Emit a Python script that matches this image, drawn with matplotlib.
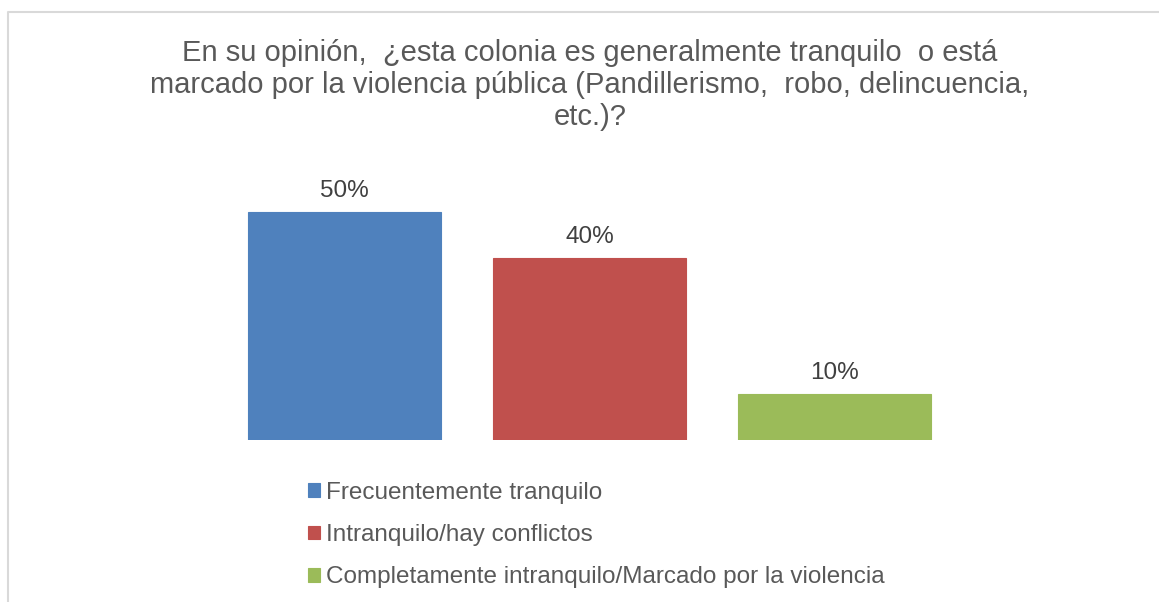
import numpy as np
import matplotlib.pyplot as plt
from matplotlib.lines import Line2D

categorias = ['Frecuentemente tranquilo', 'Intranquilo/hay conflictos',
              'Completamente intranquilo/Marcado por la violencia']
valores = [50, 40, 10]
etiquetas = ['50%', '40%', '10%']
colores = ['#4F81BD', '#C0504D', '#9BBB59']
titulo = ('En su opinión,  ¿esta colonia es generalmente tranquilo  o está\n'
          'marcado por la violencia pública (Pandillerismo,  robo, delincuencia,\n'
          'etc.)?')

plt.rcParams['font.family'] = ['Liberation Sans', 'DejaVu Sans']
W, H = 1159, 602
fig = plt.figure(figsize=(W / 100, H / 100), dpi=100)

# axes placed in pixel units
ax = fig.add_axes([222 / W, 162 / H, 735 / W, 4.56 * 60 / H])
x = np.arange(len(valores))
for i in range(len(valores)):
    ax.bar(x[i], valores[i], width=0.788, color=colores[i], label=categorias[i],
           edgecolor=colores[i], linewidth=0.8)
    ax.text(x[i], valores[i] + 3.3, etiquetas[i], ha='center', va='baseline',
            fontsize=17.5, color='#404040')
ax.set_xlim(-0.5, 2.5)
ax.set_ylim(0, 60)
ax.axis('off')

fig.text(590 / W, 1 - 39 / H, titulo, ha='center', va='top',
         fontsize=21, color='#595959', linespacing=1.18)

fig.legend(loc='upper left', bbox_to_anchor=(308 / W, 1 - 482 / H), frameon=False,
           fontsize=17.5, handlelength=0.5, handleheight=0.5, handletextpad=0.25,
           labelspacing=0.83, labelcolor='#595959', borderpad=0, borderaxespad=0)

# chart border (top and left)
fig.add_artist(Line2D([7.5 / W, 7.5 / W, 1], [0, 1 - 12 / H, 1 - 12 / H],
                      transform=fig.transFigure, color='#D9D9D9', linewidth=1.5))

fig.savefig('out.png', dpi=100)
